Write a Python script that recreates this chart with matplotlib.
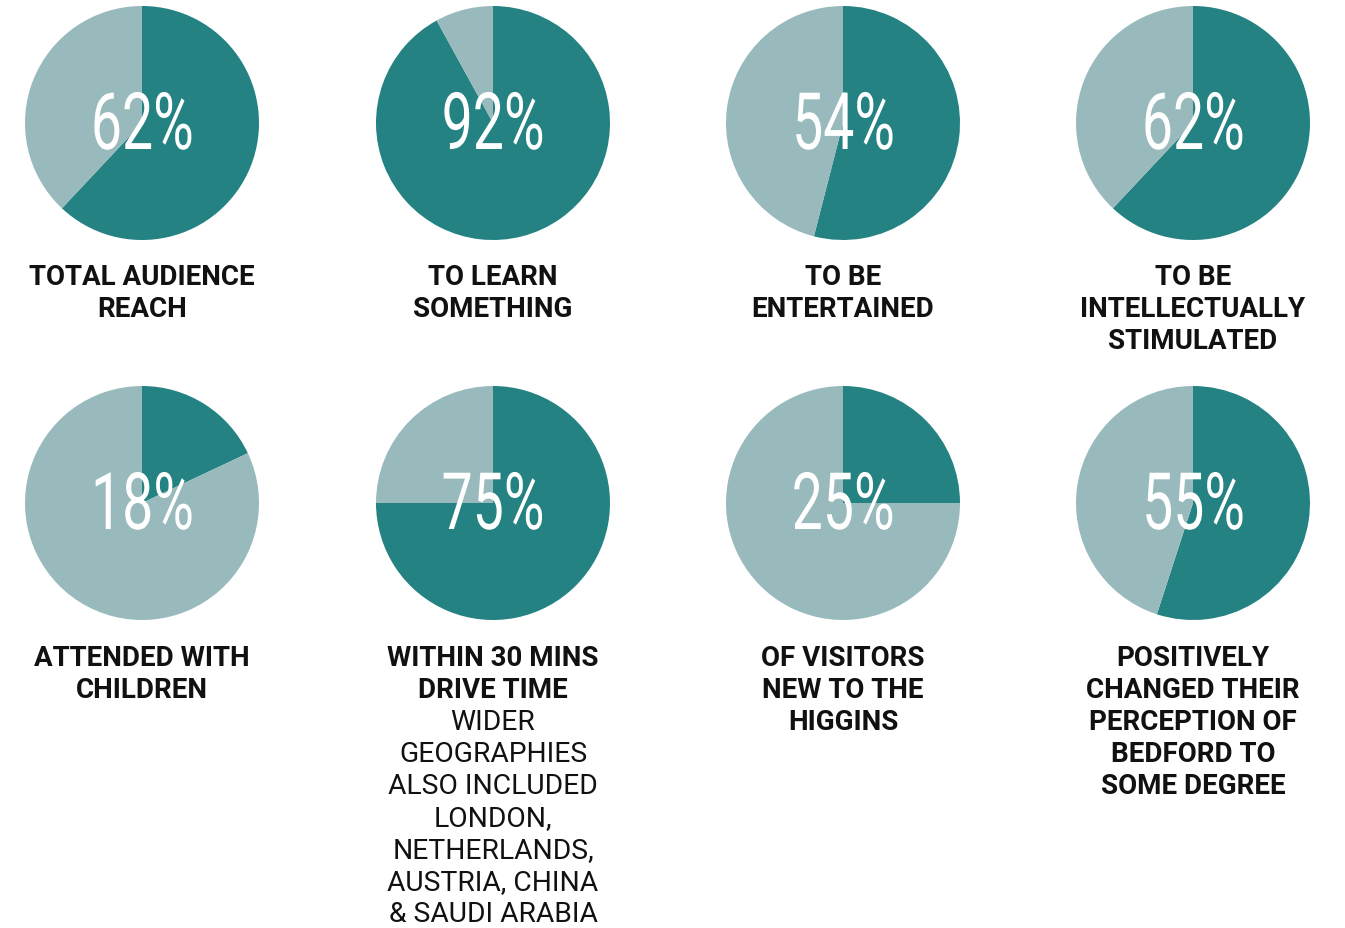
import matplotlib
matplotlib.use("Agg")
import matplotlib.pyplot as plt
from matplotlib.patheffects import AbstractPathEffect
from matplotlib.transforms import Affine2D

# Survey results, one pie per statistic
values = [62, 92, 54, 62, 18, 75, 25, 55]
headlines = [
    ["TOTAL AUDIENCE", "REACH"],
    ["TO LEARN", "SOMETHING"],
    ["TO BE", "ENTERTAINED"],
    ["TO BE", "INTELLECTUALLY", "STIMULATED"],
    ["ATTENDED WITH", "CHILDREN"],
    ["WITHIN 30 MINS", "DRIVE TIME"],
    ["OF VISITORS", "NEW TO THE", "HIGGINS"],
    ["POSITIVELY", "CHANGED THEIR", "PERCEPTION OF", "BEDFORD TO", "SOME DEGREE"],
]
notes = [
    [], [], [], [],
    [],
    ["WIDER", "GEOGRAPHIES", "ALSO INCLUDED", "LONDON,", "NETHERLANDS,",
     "AUSTRIA, CHINA", "& SAUDI ARABIA"],
    [], [],
]

DARK = "#248282"
LIGHT = "#99babc"
INK = "#111111"

W, H = 1345, 929
col_x = [142, 493, 843, 1193]
row_y = [124, 504]
radius = 117
pct_baseline = [150, 530]
label_baseline = [285, 666]
line_step = 32


class Condense(AbstractPathEffect):
    """Squeeze glyph outlines horizontally around their centre."""

    def __init__(self, sx):
        super().__init__()
        self.sx = sx

    def draw_path(self, renderer, gc, tpath, affine, rgbFace=None):
        ext = tpath.get_extents()
        cx = 0.5 * (ext.x0 + ext.x1)
        pre = Affine2D().translate(-cx, 0).scale(self.sx, 1).translate(cx, 0)
        renderer.draw_path(gc, tpath, pre + affine, rgbFace)


fig = plt.figure(figsize=(W / 100, H / 100), dpi=100)
ax = fig.add_axes([0, 0, 1, 1])

for i, v in enumerate(values):
    r, c = divmod(i, 4)
    cx, cy = col_x[c], H - row_y[r]
    ax.pie([v, 100 - v], colors=[DARK, LIGHT], startangle=90,
           counterclock=False, center=(cx, cy), radius=radius,
           wedgeprops=dict(linewidth=0, antialiased=True))
    ax.text(cx, H - pct_baseline[r], f"{v}%", ha="center", va="baseline",
            color="white", fontsize=57, family="Roboto", fontweight="normal",
            path_effects=[Condense(0.7)])
    y = label_baseline[r]
    for line in headlines[i]:
        ax.text(cx, H - y, line, ha="center", va="baseline", color=INK,
                fontsize=20, family="Roboto", fontweight="bold")
        y += line_step
    for line in notes[i]:
        ax.text(cx, H - y, line, ha="center", va="baseline", color=INK,
                fontsize=20.3, family="Roboto", fontweight="normal")
        y += line_step

ax.set_xlim(0, W)
ax.set_ylim(0, H)
ax.set_aspect("equal")
ax.axis("off")
fig.savefig("out.png", dpi=100, facecolor="white")
